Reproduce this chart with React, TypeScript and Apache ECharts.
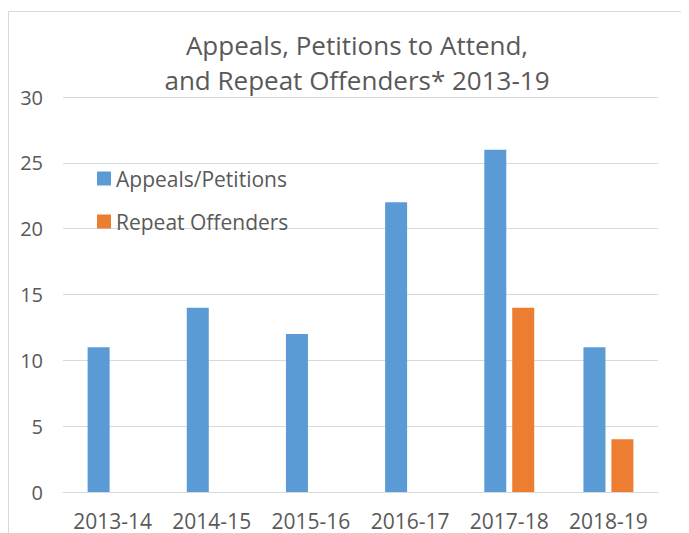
import React, { useEffect, useRef } from "react";
import * as echarts from "echarts";

const categories = ["2013-14", "2014-15", "2015-16", "2016-17", "2017-18", "2018-19"];
const appealsPetitions = [11, 14, 12, 22, 26, 11];
const repeatOffenders = [0, 0, 0, 0, 14, 4];
const yTicks = { min: 0, max: 30, interval: 5 };

const FONT = "'Open Sans', sans-serif";
const TEXT = "#595959";

export default function App() {
  const ref = useRef<HTMLDivElement>(null);
  useEffect(() => {
    if (!ref.current) return;
    const chart = echarts.init(ref.current, null, { renderer: "svg" });
    chart.setOption({
      animation: false,
      textStyle: { fontFamily: FONT },
      graphic: [
        {
          type: "rect",
          shape: { x: 0.5, y: 3.5, width: 800, height: 700 },
          style: { fill: "none", stroke: "#d9d9d9", lineWidth: 1 },
          silent: true,
          z: -1,
        },
      ],
      title: {
        text: "Appeals, Petitions to Attend,\nand Repeat Offenders* 2013-19",
        left: 344,
        textAlign: "center",
        top: 14,
        textStyle: {
          fontFamily: FONT,
          fontWeight: "normal",
          fontSize: 26,
          lineHeight: 35,
          color: TEXT,
        },
      },
      legend: {
        orient: "vertical",
        left: 84,
        top: 155,
        itemWidth: 14,
        itemHeight: 14,
        itemGap: 22,
        icon: "rect",
        textStyle: { fontFamily: FONT, fontSize: 21, color: TEXT },
        data: ["Appeals/Petitions", "Repeat Offenders"],
      },
      grid: { left: 55, right: 31, top: 89, bottom: 41 },
      xAxis: {
        type: "category",
        data: categories,
        axisTick: { show: false },
        axisLine: { lineStyle: { color: "#d9d9d9" } },
        axisLabel: { interval: 0, fontFamily: FONT, fontSize: 21, color: TEXT, margin: 18 },
      },
      yAxis: {
        type: "value",
        min: yTicks.min,
        max: yTicks.max,
        interval: yTicks.interval,
        axisLine: { show: false },
        axisTick: { show: false },
        splitLine: { lineStyle: { color: "#d9d9d9" } },
        axisLabel: { fontFamily: FONT, fontSize: 20, color: TEXT, margin: 20 },
      },
      series: [
        {
          name: "Appeals/Petitions",
          type: "bar",
          data: appealsPetitions,
          barWidth: 22,
          barGap: "27%",
          itemStyle: { color: "#5B9BD5" },
        },
        {
          name: "Repeat Offenders",
          type: "bar",
          data: repeatOffenders,
          barWidth: 22,
          barGap: "27%",
          itemStyle: { color: "#ED7D31" },
        },
      ],
    });
    return () => chart.dispose();
  }, []);
  return <div ref={ref} style={{ width: 681, height: 525 }} />;
}
